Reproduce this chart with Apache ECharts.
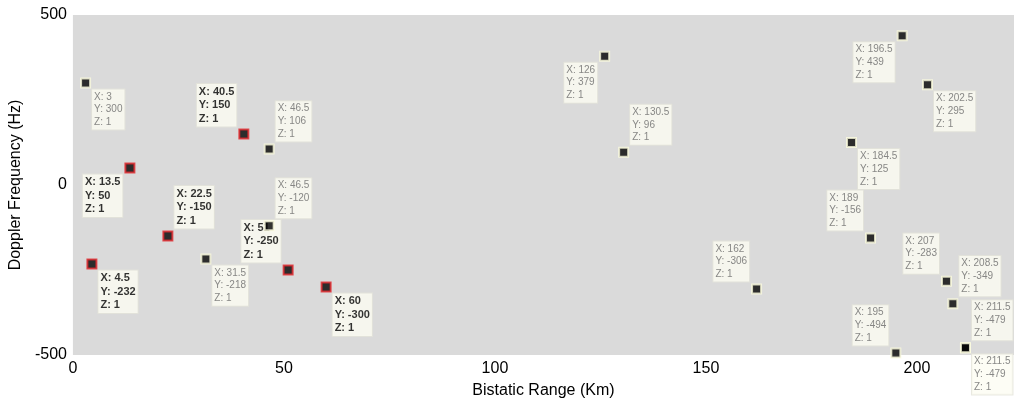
<!DOCTYPE html>
<html>
<head>
<meta charset="utf-8">
<script src="https://cdn.jsdelivr.net/npm/echarts@6/dist/echarts.min.js"></script>
<style>
  html, body { margin: 0; padding: 0; background: #fff; }
  #chart { width: 1017px; height: 404px; }
</style>
</head>
<body>
<div id="chart"></div>
<script>
// Detected targets: bistatic range (km) vs Doppler frequency (Hz)
const rangeKm   = [3, 4.5, 13.5, 22.5, 31.5, 40.5, 46.5, 46.5, 51, 60, 126, 130.5, 162, 184.5, 189, 195, 196.5, 202.5, 207, 208.5, 211.5, 211.5];
const dopplerHz = [300, -232, 50, -150, -218, 150, 106, -120, -250, -300, 379, 96, -306, 125, -156, -494, 439, 295, -283, -349, -479, -479];
const zValue    = [1, 1, 1, 1, 1, 1, 1, 1, 1, 1, 1, 1, 1, 1, 1, 1, 1, 1, 1, 1, 1, 1];
// targets marked with a red outline and a bold data tip
const selected  = [false, true, true, true, false, true, false, false, true, true, false, false, false, false, false, false, false, false, false, false, false, false];

const xTicks = [0, 50, 100, 150, 200];
const yTicks = [-500, 0, 500];

// which corner each data tip sits at: r/l = right/left of point, b/a = below/above
const tipSide = ['rb', 'rb', 'lb', 'ra', 'rb', 'la', 'ra', 'ra', 'la', 'rb', 'lb', 'ra', 'la', 'rb', 'la', 'la', 'lb', 'rb', 'la', 'ra', 'ra', 'rb'];

const FONT = '"Liberation Sans", Arial, sans-serif';
const GAP = 7;

function tipLabel(i) {
  const side = tipSide[i];
  const right = side[0] === 'r';
  const below = side[1] === 'b';
  const bold = selected[i];
  const lines = ['X: ' + rangeKm[i], 'Y: ' + dopplerHz[i], 'Z: ' + zValue[i]];
  return {
    show: true,
    position: [right ? GAP : -GAP, below ? GAP : -GAP],
    align: right ? 'left' : 'right',
    verticalAlign: below ? 'top' : 'bottom',
    formatter: () => lines.map(s => '{t|' + s + '}').join('\n'),
    backgroundColor: '#fdfdf2',
    borderColor: '#e4e4da',
    borderWidth: 1,
    padding: [1, 2, 1, 2],
    rich: {
      t: {
        align: 'left',
        fontFamily: FONT,
        fontSize: bold ? 11 : 10,
        lineHeight: bold ? 13.5 : 12.7,
        fontWeight: bold ? 'bold' : 'normal',
        color: bold ? '#000000' : '#6a6a6a'
      }
    }
  };
}

const tipData = rangeKm.map((x, i) => ({
  value: [x, dopplerHz[i]],
  label: tipLabel(i)
}));

const markerData = rangeKm.map((x, i) => ({
  value: [x, dopplerHz[i]],
  itemStyle: {
    color: '#000000',
    borderColor: selected[i] ? '#e3262b' : '#fbfbdf',
    borderWidth: 2
  }
}));

const chart = echarts.init(document.getElementById('chart'), null, { renderer: 'canvas' });
chart.setOption({
  animation: false,
  backgroundColor: '#ffffff',
  grid: {
    left: 70, right: 0, top: 15, bottom: 48,
    show: true, backgroundColor: '#dadada', borderWidth: 0
  },
  xAxis: {
    type: 'value',
    min: 0, max: 223, interval: 50,
    name: 'Bistatic Range (Km)',
    nameLocation: 'middle',
    nameGap: 28,
    nameTextStyle: { fontFamily: FONT, fontSize: 16, color: '#000' },
    axisLine: { show: false },
    axisTick: { show: false },
    splitLine: { show: false },
    axisLabel: {
      fontFamily: FONT, fontSize: 16, color: '#000', margin: 6,
      formatter: v => xTicks.includes(v) ? String(v) : ''
    }
  },
  yAxis: {
    type: 'value',
    min: -500, max: 500, interval: 500,
    name: 'Doppler Frequency (Hz)',
    nameLocation: 'middle',
    nameGap: 44,
    nameTextStyle: { fontFamily: FONT, fontSize: 16, color: '#000' },
    axisLine: { show: false },
    axisTick: { show: false },
    splitLine: { show: false },
    axisLabel: {
      fontFamily: FONT, fontSize: 16, color: '#000', margin: 6,
      formatter: v => yTicks.includes(v) ? String(v) : ''
    }
  },
  series: [
    {
      name: 'tips',
      type: 'scatter',
      z: 1,
      symbol: 'rect',
      symbolSize: 1,
      itemStyle: { color: 'rgba(0,0,0,0)' },
      silent: true,
      labelLayout: { hideOverlap: false },
      data: tipData
    },
    {
      name: 'targets',
      type: 'scatter',
      z: 3,
      symbol: 'rect',
      symbolSize: 9,
      data: markerData
    }
  ]
});
</script>
</body>
</html>
